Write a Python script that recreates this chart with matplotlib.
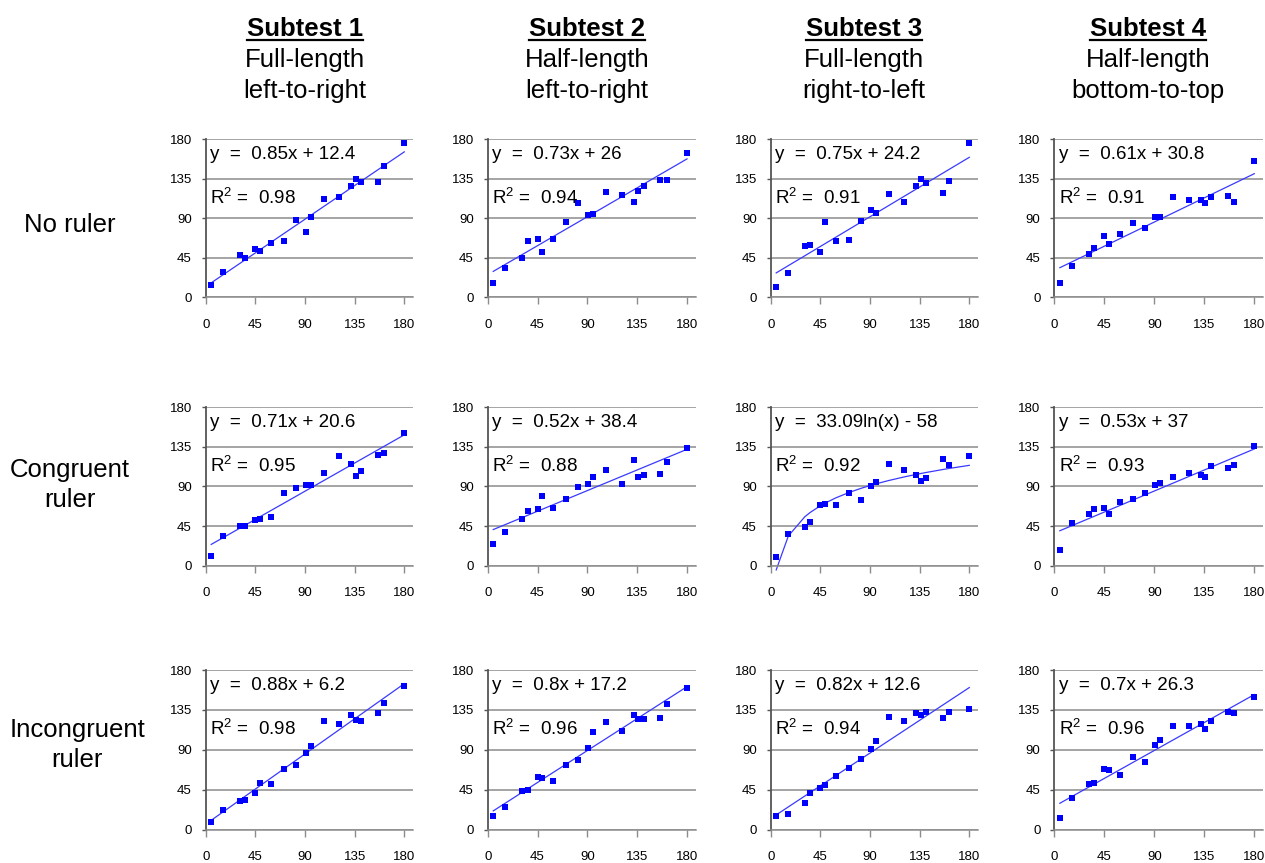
import matplotlib
matplotlib.use('Agg')
import matplotlib.pyplot as plt
import numpy as np
from matplotlib.lines import Line2D

plt.rcParams['font.family'] = ['Liberation Sans', 'DejaVu Sans']
plt.rcParams['mathtext.fontset'] = 'custom'
plt.rcParams['mathtext.rm'] = 'Liberation Sans'
plt.rcParams['mathtext.it'] = 'Liberation Sans:italic'
plt.rcParams['mathtext.bf'] = 'Liberation Sans:bold'

# ---------------- data ----------------
subtest_titles = ['Subtest 1', 'Subtest 2', 'Subtest 3', 'Subtest 4']
subtest_line1 = ['Full-length', 'Half-length', 'Full-length', 'Half-length']
subtest_line2 = ['left-to-right', 'left-to-right', 'right-to-left', 'bottom-to-top']
row_line1 = ['No ruler', 'Congruent', 'Incongruent']
row_line2 = ['', 'ruler', 'ruler']
tick_vals = [0, 45, 90, 135, 180]

x_angles = [5, 16, 31, 36, 45, 49, 59, 71, 82, 91, 95, 107, 121, 132, 136, 141, 156, 162, 180]

# No ruler
y_none_s1 = [14, 29, 48, 45, 55, 53, 62, 64, 88, 74, 91, 112, 114, 127, 135, 131, 131, 149, 175]
y_none_s2 = [16, 33, 45, 64, 66, 52, 66, 86, 107, 94, 95, 120, 116, 108, 121, 127, 134, 133, 164]
y_none_s3 = [12, 28, 59, 60, 52, 86, 64, 65, 87, 99, 96, 118, 108, 127, 135, 130, 119, 132, 176]
y_none_s4 = [16, 36, 49, 56, 70, 61, 72, 85, 79, 91, 91, 114, 111, 111, 107, 114, 115, 109, 155]
# Congruent ruler
y_cong_s1 = [11, 34, 45, 45, 52, 53, 55, 82, 88, 92, 91, 105, 124, 115, 102, 107, 125, 128, 151]
y_cong_s2 = [25, 38, 53, 62, 64, 79, 65, 76, 89, 93, 101, 109, 93, 120, 101, 103, 104, 118, 134]
y_cong_s3 = [10, 36, 44, 49, 69, 70, 69, 82, 74, 90, 95, 115, 109, 103, 96, 100, 121, 114, 124]
y_cong_s4 = [18, 48, 59, 64, 65, 59, 72, 76, 82, 92, 94, 101, 105, 103, 101, 113, 111, 114, 136]
# Incongruent ruler
y_inc_s1 = [9, 22, 32, 34, 41, 53, 52, 68, 73, 87, 94, 123, 119, 129, 124, 123, 132, 143, 162]
y_inc_s2 = [16, 26, 44, 45, 59, 58, 55, 73, 78, 92, 110, 121, 111, 129, 125, 125, 126, 142, 160]
y_inc_s3 = [15, 18, 30, 41, 47, 50, 60, 69, 80, 91, 100, 127, 123, 131, 129, 133, 126, 133, 136]
y_inc_s4 = [13, 36, 51, 53, 68, 67, 62, 82, 76, 95, 101, 117, 117, 119, 114, 122, 133, 131, 150]

y_rows = [[y_none_s1, y_none_s2, y_none_s3, y_none_s4],
          [y_cong_s1, y_cong_s2, y_cong_s3, y_cong_s4],
          [y_inc_s1, y_inc_s2, y_inc_s3, y_inc_s4]]

# trendline type, coefficient a, coefficient b  (linear: a*x+b ; log: a*ln(x)+b)
trend_none = [('lin', 0.85, 12.4), ('lin', 0.73, 26), ('lin', 0.75, 24.2), ('lin', 0.61, 30.8)]
trend_cong = [('lin', 0.71, 20.6), ('lin', 0.52, 38.4), ('log', 33.09, -58), ('lin', 0.53, 37)]
trend_inc = [('lin', 0.88, 6.2), ('lin', 0.8, 17.2), ('lin', 0.82, 12.6), ('lin', 0.7, 26.3)]
trend_rows = [trend_none, trend_cong, trend_inc]

eq_none = ['0.85x + 12.4', '0.73x + 26', '0.75x + 24.2', '0.61x + 30.8']
eq_cong = ['0.71x + 20.6', '0.52x + 38.4', '33.09ln(x) - 58', '0.53x + 37']
eq_inc = ['0.88x + 6.2', '0.8x + 17.2', '0.82x + 12.6', '0.7x + 26.3']
eq_rows = [eq_none, eq_cong, eq_inc]

r2_none = ['0.98', '0.94', '0.91', '0.91']
r2_cong = ['0.95', '0.88', '0.92', '0.93']
r2_inc = ['0.98', '0.96', '0.94', '0.96']
r2_rows = [r2_none, r2_cong, r2_inc]

# ---------------- layout ----------------
W, H = 1265, 863
fig = plt.figure(figsize=(W / 100, H / 100), dpi=100)

col_x0 = [205.7, 487.7, 770.7, 1054.3]
col_x180 = [404.3, 687.0, 969.3, 1254.3]
row_y0 = [297.5, 565.7, 829.7]
row_y180 = [139.0, 407.0, 670.0]
XMAX = 188

for r in range(3):
    for c in range(4):
        sx = (col_x180[c] - col_x0[c]) / 180
        wpx = sx * XMAX
        hpx = row_y0[r] - row_y180[r]
        ax = fig.add_axes([col_x0[c] / W, (H - row_y0[r]) / H, wpx / W, hpx / H])
        ax.set_xlim(0, XMAX)
        ax.set_ylim(0, 180)
        ax.set_xticks(tick_vals)
        ax.set_yticks(tick_vals)
        ax.set_axisbelow(True)
        ax.grid(axis='y', color='#8c8c8c', lw=1.1)
        for s in ['top', 'right']:
            ax.spines[s].set_visible(False)
        ax.spines['bottom'].set_color('#8c8c8c')
        ax.spines['bottom'].set_linewidth(1.1)
        ax.spines['left'].set_color('#555555')
        ax.spines['left'].set_linewidth(1.3)
        ax.tick_params(axis='x', length=5, width=1, color='#8c8c8c', pad=10.5, labelsize=9.5)
        ax.tick_params(axis='y', length=3, width=1, color='#555555', pad=7, labelsize=9.5)

        yv = y_rows[r][c]
        ax.plot(x_angles, yv, 's', color='#0000ff', ms=4.6, mew=0, clip_on=False, zorder=3)

        kind, a, b = trend_rows[r][c]
        if kind == 'lin':
            xs = np.array([min(x_angles), max(x_angles)], dtype=float)
            ys = a * xs + b
        else:
            xs = np.array(x_angles, dtype=float)
            ys = a * np.log(xs) + b
        ax.plot(xs, ys, '-', color='#3a3aff', lw=0.9, clip_on=False, zorder=2)

        ax.text(4, 162, 'y  =  ' + eq_rows[r][c], fontsize=13.5, va='center', ha='left')
        ax.text(4, 113, r'R$^\mathregular{2}$ =  ' + r2_rows[r][c], fontsize=13.5,
                va='center', ha='left')

# column headers
head_cx = [305, 587, 864, 1148]
title_objs = []
for c in range(4):
    t = fig.text(head_cx[c] / W, 1 - 29 / H, subtest_titles[c], fontsize=18.5,
                 fontweight='bold', ha='center', va='center')
    title_objs.append(t)
    fig.text(head_cx[c] / W, 1 - 60 / H, subtest_line1[c], fontsize=18.5,
             ha='center', va='center')
    fig.text(head_cx[c] / W, 1 - 91 / H, subtest_line2[c], fontsize=18.5,
             ha='center', va='center')

# row labels
row_cy1 = [225, 470, 730]
row_cx = [70, 70, 77]
for r in range(3):
    if row_line2[r]:
        fig.text(row_cx[r] / W, 1 - row_cy1[r] / H, row_line1[r], fontsize=18.5,
                 ha='center', va='center')
        fig.text(row_cx[r] / W, 1 - (row_cy1[r] + 30) / H, row_line2[r], fontsize=18.5,
                 ha='center', va='center')
    else:
        fig.text(row_cx[r] / W, 1 - row_cy1[r] / H, row_line1[r], fontsize=18.5,
                 ha='center', va='center')

# underline the bold titles
fig.canvas.draw()
renderer = fig.canvas.get_renderer()
for t in title_objs:
    bb = t.get_window_extent(renderer)
    yline = bb.y0 + 1
    fig.add_artist(Line2D([bb.x0 / W, bb.x1 / W], [yline / H, yline / H],
                          transform=fig.transFigure, color='black', lw=1.6))

fig.savefig('out.png', dpi=100)
